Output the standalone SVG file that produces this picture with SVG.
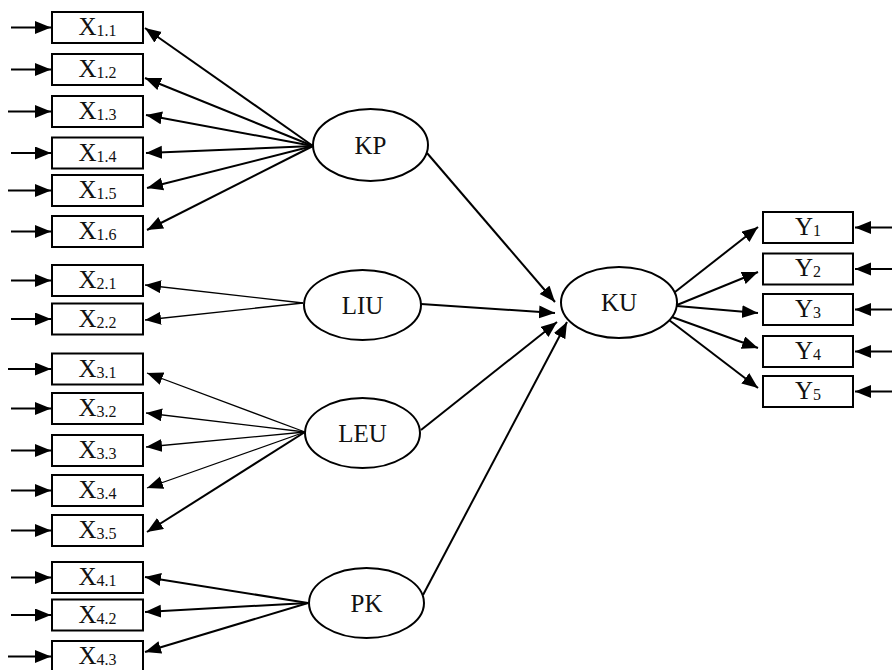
<svg xmlns="http://www.w3.org/2000/svg" width="892" height="670" viewBox="0 0 892 670">
<defs>
<marker id="ah" markerUnits="userSpaceOnUse" markerWidth="17" markerHeight="14" refX="16" refY="6.5" orient="auto">
<path d="M0,0 L16,6.5 L0,13 z" fill="#000"/>
</marker>
<style>
.box{fill:#fff;stroke:#000;stroke-width:2}
.ell{fill:#fff;stroke:#000;stroke-width:2}
.t{font-family:"Liberation Serif","Times New Roman",serif;font-size:25px;fill:#111;text-anchor:middle}
.s{font-size:16px}
.c{stroke:#000;stroke-width:2;fill:none;marker-end:url(#ah)}
.c2{stroke:#000;stroke-width:1.3;fill:none;marker-end:url(#ah)}
</style>
</defs>
<rect width="892" height="670" fill="#fff"/>
<g id="connectors">
<line class="c" x1="11" y1="27.5" x2="51" y2="27.5"/>
<line class="c" x1="11" y1="69.5" x2="51" y2="69.5"/>
<line class="c" x1="8" y1="111.5" x2="51" y2="111.5"/>
<line class="c" x1="11" y1="153" x2="51" y2="153"/>
<line class="c" x1="8" y1="190.5" x2="51" y2="190.5"/>
<line class="c" x1="11" y1="231.5" x2="51" y2="231.5"/>
<line class="c" x1="11" y1="280.5" x2="51" y2="280.5"/>
<line class="c" x1="11" y1="319" x2="51" y2="319"/>
<line class="c" x1="8" y1="369" x2="51" y2="369"/>
<line class="c" x1="11" y1="408.5" x2="51" y2="408.5"/>
<line class="c" x1="11" y1="450.5" x2="51" y2="450.5"/>
<line class="c" x1="11" y1="490.5" x2="51" y2="490.5"/>
<line class="c" x1="11" y1="530.5" x2="51" y2="530.5"/>
<line class="c" x1="11" y1="577.5" x2="51" y2="577.5"/>
<line class="c" x1="11" y1="615" x2="51" y2="615"/>
<line class="c" x1="8" y1="656.5" x2="51" y2="656.5"/>
<line class="c" x1="892" y1="227.5" x2="855" y2="227.5"/>
<line class="c" x1="892" y1="269" x2="855" y2="269"/>
<line class="c" x1="892" y1="309.5" x2="855" y2="309.5"/>
<line class="c" x1="892" y1="351.5" x2="855" y2="351.5"/>
<line class="c" x1="892" y1="391.5" x2="855" y2="391.5"/>
<line class="c" x1="313" y1="146" x2="145" y2="28"/>
<line class="c" x1="313" y1="146" x2="145" y2="78"/>
<line class="c" x1="313" y1="146" x2="146" y2="115"/>
<line class="c" x1="313" y1="146" x2="146" y2="153"/>
<line class="c" x1="313" y1="146" x2="147" y2="188"/>
<line class="c" x1="313" y1="146" x2="147" y2="230"/>
<line class="c2" x1="303" y1="303" x2="145" y2="285"/>
<line class="c2" x1="303" y1="303" x2="145" y2="320"/>
<line class="c2" x1="305" y1="432" x2="147" y2="373"/>
<line class="c2" x1="305" y1="432" x2="146" y2="413"/>
<line class="c2" x1="305" y1="432" x2="146" y2="447"/>
<line class="c2" x1="305" y1="432" x2="147" y2="488"/>
<line class="c" x1="305" y1="432" x2="147" y2="532"/>
<line class="c" x1="308" y1="603" x2="145" y2="577"/>
<line class="c" x1="308" y1="603" x2="145" y2="612"/>
<line class="c" x1="308" y1="603" x2="145" y2="652"/>
<line class="c" x1="427" y1="153" x2="555" y2="302"/>
<line class="c" x1="421" y1="304" x2="555" y2="313"/>
<line class="c" x1="421" y1="430" x2="557" y2="322"/>
<line class="c" x1="423" y1="595" x2="567" y2="322"/>
<line class="c" x1="675" y1="292" x2="758" y2="227"/>
<line class="c" x1="677" y1="305" x2="758" y2="272"/>
<line class="c" x1="677" y1="306" x2="758" y2="313"/>
<line class="c" x1="672" y1="317" x2="758" y2="348"/>
<line class="c" x1="669" y1="320" x2="758" y2="388"/>
</g>
<g id="X1_1"><rect class="box" x="52" y="12" width="91" height="31"/><text class="t" x="97.5" y="35">X<tspan class="s" dy="1">1.1</tspan></text></g>
<g id="X1_2"><rect class="box" x="52" y="54" width="91" height="31"/><text class="t" x="97.5" y="77">X<tspan class="s" dy="1">1.2</tspan></text></g>
<g id="X1_3"><rect class="box" x="52" y="96" width="91" height="31"/><text class="t" x="97.5" y="119">X<tspan class="s" dy="1">1.3</tspan></text></g>
<g id="X1_4"><rect class="box" x="52" y="137.5" width="91" height="31"/><text class="t" x="97.5" y="160.5">X<tspan class="s" dy="1">1.4</tspan></text></g>
<g id="X1_5"><rect class="box" x="52" y="175" width="91" height="31"/><text class="t" x="97.5" y="198">X<tspan class="s" dy="1">1.5</tspan></text></g>
<g id="X1_6"><rect class="box" x="52" y="216" width="91" height="31"/><text class="t" x="97.5" y="239">X<tspan class="s" dy="1">1.6</tspan></text></g>
<g id="X2_1"><rect class="box" x="52" y="265" width="91" height="31"/><text class="t" x="97.5" y="288">X<tspan class="s" dy="1">2.1</tspan></text></g>
<g id="X2_2"><rect class="box" x="52" y="303.5" width="91" height="31"/><text class="t" x="97.5" y="326.5">X<tspan class="s" dy="1">2.2</tspan></text></g>
<g id="X3_1"><rect class="box" x="52" y="353.5" width="91" height="31"/><text class="t" x="97.5" y="376.5">X<tspan class="s" dy="1">3.1</tspan></text></g>
<g id="X3_2"><rect class="box" x="52" y="393" width="91" height="31"/><text class="t" x="97.5" y="416">X<tspan class="s" dy="1">3.2</tspan></text></g>
<g id="X3_3"><rect class="box" x="52" y="435" width="91" height="31"/><text class="t" x="97.5" y="458">X<tspan class="s" dy="1">3.3</tspan></text></g>
<g id="X3_4"><rect class="box" x="52" y="475" width="91" height="31"/><text class="t" x="97.5" y="498">X<tspan class="s" dy="1">3.4</tspan></text></g>
<g id="X3_5"><rect class="box" x="52" y="515" width="91" height="31"/><text class="t" x="97.5" y="538">X<tspan class="s" dy="1">3.5</tspan></text></g>
<g id="X4_1"><rect class="box" x="52" y="562" width="91" height="31"/><text class="t" x="97.5" y="585">X<tspan class="s" dy="1">4.1</tspan></text></g>
<g id="X4_2"><rect class="box" x="52" y="599.5" width="91" height="31"/><text class="t" x="97.5" y="622.5">X<tspan class="s" dy="1">4.2</tspan></text></g>
<g id="X4_3"><rect class="box" x="52" y="641" width="91" height="31"/><text class="t" x="97.5" y="664">X<tspan class="s" dy="1">4.3</tspan></text></g>
<g id="KP"><ellipse class="ell" cx="370.5" cy="145" rx="57.5" ry="36"/><text class="t" x="370.5" y="153.5">KP</text></g>
<g id="LIU"><ellipse class="ell" cx="362.5" cy="305" rx="58.5" ry="35"/><text class="t" x="362.5" y="313.5">LIU</text></g>
<g id="LEU"><ellipse class="ell" cx="362.5" cy="433" rx="57.5" ry="35"/><text class="t" x="362.5" y="441.5">LEU</text></g>
<g id="PK"><ellipse class="ell" cx="366.5" cy="603" rx="57.5" ry="35"/><text class="t" x="366.5" y="611.5">PK</text></g>
<g id="KU"><ellipse class="ell" cx="619" cy="302.5" rx="58" ry="35.5"/><text class="t" x="619" y="311">KU</text></g>
<g id="Y1"><rect class="box" x="763" y="212" width="90" height="31"/><text class="t" x="808" y="234.5">Y<tspan class="s" dy="1">1</tspan></text></g>
<g id="Y2"><rect class="box" x="763" y="253.5" width="90" height="31"/><text class="t" x="808" y="276">Y<tspan class="s" dy="1">2</tspan></text></g>
<g id="Y3"><rect class="box" x="763" y="294" width="90" height="31"/><text class="t" x="808" y="316.5">Y<tspan class="s" dy="1">3</tspan></text></g>
<g id="Y4"><rect class="box" x="763" y="336" width="90" height="31"/><text class="t" x="808" y="358.5">Y<tspan class="s" dy="1">4</tspan></text></g>
<g id="Y5"><rect class="box" x="763" y="376" width="90" height="31"/><text class="t" x="808" y="398.5">Y<tspan class="s" dy="1">5</tspan></text></g>
</svg>
